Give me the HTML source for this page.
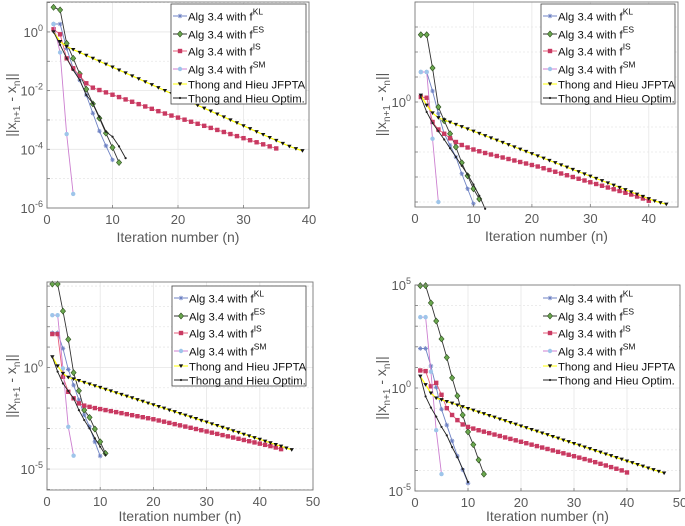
<!DOCTYPE html>
<html><head><meta charset="utf-8"><style>
body{margin:0;background:#fff;}
svg{display:block;font-family:"Liberation Sans",sans-serif;}
</style></head><body>
<svg id="fig" width="685" height="526" viewBox="0 0 685 526"></svg>
<script>
// ---- data (log10 of ||x_{n+1}-x_n||), iteration n starts at 1 ----
const p1KL=[0.27,0.27,-0.56,-1.24,-1.64,-2.15,-2.77,-3.38,-3.88,-4.36];
const p1ES=[0.84,0.75,-0.39,-0.9,-1.43,-1.95,-2.45,-2.94,-3.45,-3.94,-4.45];
const p1IS=[0.09,-0.08,-0.9,-1.24,-1.5,-1.75,-1.9,-1.98,-2.06,-2.14,-2.22,-2.3,-2.38,-2.46,-2.54,-2.62,-2.7,-2.78,-2.85,-2.92,-2.99,-3.06,-3.13,-3.2,-3.27,-3.34,-3.41,-3.48,-3.55,-3.62,-3.69,-3.76,-3.83,-3.9,-3.97];
const p1SM=[0.27,-0.7,-3.48,-5.52];
const p1JF=[0,-0.33,-0.5,-0.6,-0.7,-0.8,-0.9,-1.0,-1.1,-1.2,-1.3,-1.4,-1.5,-1.6,-1.7,-1.8,-1.9,-2.0,-2.1,-2.2,-2.3,-2.4,-2.5,-2.6,-2.7,-2.8,-2.9,-3.0,-3.1,-3.2,-3.3,-3.4,-3.5,-3.6,-3.7,-3.8,-3.9,-3.98,-4.05];
const p1OP=[0,-0.44,-0.9,-1.3,-1.64,-2.15,-2.43,-2.9,-3.4,-3.57,-3.9,-4.3];

const p2KL=[1.2,1.2,0.44,-0.47,-1.27,-1.73,-2.2,-2.87,-3.47,-4.07];
const p2ES=[2.69,2.69,1.36,-0.2,-0.75,-1.27,-1.8,-2.43,-2.95,-3.47,-3.88];
const p2IS=[0.2,0.17,-0.8,-1.1,-1.27,-1.45,-1.6,-1.72,-1.82,-1.9,-1.97,-2.04,-2.1,-2.16,-2.22,-2.28,-2.34,-2.4,-2.46,-2.52,-2.58,-2.65,-2.72,-2.79,-2.86,-2.93,-3.0,-3.07,-3.14,-3.21,-3.28,-3.35,-3.42,-3.49,-3.56,-3.63,-3.7,-3.78,-3.86,-3.95];
const p2SM=[1.2,1.2,-1.47,-4.0];
const p2JF=[0.27,-0.13,-0.44,-0.63,-0.72,-0.81,-0.9,-0.99,-1.08,-1.17,-1.26,-1.35,-1.44,-1.53,-1.62,-1.71,-1.8,-1.89,-1.98,-2.07,-2.16,-2.25,-2.34,-2.43,-2.52,-2.61,-2.7,-2.79,-2.88,-2.97,-3.06,-3.15,-3.24,-3.33,-3.42,-3.51,-3.6,-3.69,-3.78,-3.87,-3.96,-4.03,-4.09];
const p2OP=[0.2,-0.4,-0.84,-1.17,-1.5,-1.85,-2.2,-2.55,-2.9,-3.3,-3.75,-4.27];

const p3KL=[1.7,1.7,0.93,-0.1,-0.87,-1.6,-2.34,-2.92,-3.66,-4.36];
const p3ES=[4.1,4.1,2.77,1.38,-0.26,-1.15,-2.1,-2.46,-3.03,-3.66,-4.23];
const p3IS=[1.64,1.64,-0.46,-1.2,-1.52,-1.77,-1.88,-1.94,-2.0,-2.05,-2.1,-2.15,-2.2,-2.25,-2.3,-2.35,-2.4,-2.45,-2.5,-2.55,-2.61,-2.67,-2.73,-2.79,-2.85,-2.91,-2.97,-3.03,-3.09,-3.15,-3.21,-3.27,-3.33,-3.39,-3.45,-3.51,-3.57,-3.63,-3.69,-3.75,-3.81,-3.87,-3.94,-4.02];
const p3SM=[2.57,2.57,-0.05,-2.92,-4.34];
const p3JF=[0.52,0.07,-0.3,-0.49,-0.57,-0.65,-0.74,-0.82,-0.91,-0.99,-1.08,-1.16,-1.25,-1.33,-1.42,-1.5,-1.59,-1.67,-1.76,-1.84,-1.93,-2.01,-2.1,-2.18,-2.27,-2.35,-2.44,-2.52,-2.61,-2.69,-2.78,-2.86,-2.95,-3.03,-3.12,-3.2,-3.29,-3.37,-3.46,-3.54,-3.63,-3.71,-3.8,-3.88,-3.97,-4.05];
const p3OP=[0.52,-0.21,-0.79,-1.16,-1.52,-2.1,-2.59,-3.0,-3.49,-3.9,-4.31];

const p4KL=[1.92,1.92,1.07,0.03,-1.03,-1.8,-2.57,-3.3,-3.97,-4.62];
const p4ES=[4.97,4.97,4.13,3.25,2.38,1.48,0.49,-0.38,-1.31,-2.13,-2.75,-3.49,-4.18];
const p4IS=[0.85,0.82,0.08,0.25,-0.33,-0.98,-1.31,-1.56,-1.77,-1.89,-1.97,-2.05,-2.12,-2.19,-2.26,-2.33,-2.4,-2.47,-2.54,-2.61,-2.68,-2.75,-2.82,-2.89,-2.96,-3.03,-3.1,-3.17,-3.24,-3.31,-3.38,-3.45,-3.52,-3.6,-3.68,-3.76,-3.84,-3.92,-4.0,-4.1];
const p4SM=[3.44,3.44,0.79,-2.05,-4.18];
const p4JF=[0.57,0.16,-0.25,-0.49,-0.57,-0.66,-0.74,-0.83,-0.91,-1.0,-1.08,-1.17,-1.25,-1.34,-1.42,-1.51,-1.59,-1.68,-1.76,-1.85,-1.93,-2.02,-2.1,-2.19,-2.27,-2.36,-2.44,-2.53,-2.61,-2.7,-2.78,-2.87,-2.95,-3.04,-3.12,-3.21,-3.29,-3.38,-3.46,-3.55,-3.63,-3.72,-3.8,-3.89,-3.97,-4.05,-4.13];
const p4OP=[0.57,-0.41,-0.95,-1.39,-1.89,-2.3,-2.87,-3.36,-3.93,-4.56];

const p1XTicks=[0,10,20,30,40], p1YTicks=[0,-2,-4,-6];
const p2XTicks=[0,10,20,30,40], p2YTicks=[0];
const p3XTicks=[0,10,20,30,40,50], p3YTicks=[0,-5];
const p4XTicks=[0,10,20,30,40,50], p4YTicks=[5,0,-5];
const legendLabels=[["Alg 3.4 with f","KL"],[" Alg 3.4 with f","ES"],["Alg 3.4 with f","IS"],["Alg 3.4 with f","SM"],["Thong and Hieu JFPTA",""],["Thong and Hieu Optim.",""]];

const NS="http://www.w3.org/2000/svg";
const svg=document.getElementById('fig');
function mk(tag,attrs,parent){const e=document.createElementNS(NS,tag);for(const k in attrs)e.setAttribute(k,attrs[k]);(parent||svg).appendChild(e);return e;}

const styles=[
 {line:'#6f83c4',mk:'star',fill:'#6f83c4',stroke:'#6f83c4'},
 {line:'#333333',mk:'diamond',fill:'#6aa84f',stroke:'#2f4f1f'},
 {line:'#e65c7b',mk:'square',fill:'#c83a62',stroke:'#c83a62'},
 {line:'#cc7fd0',mk:'circle',fill:'#9ec5ea',stroke:'#9ec5ea'},
 {line:'#ffff00',mk:'tri',fill:'#111',stroke:'#111'},
 {line:'#222222',mk:'dot',fill:'#222',stroke:'#222'}];
const seriesNames=['kl','es','is','sm','jfpta','optim'];

function marker(g,type,x,y,st){
  let e;
  if(type==='square') e=mk('rect',{x:x-2.2,y:y-2.2,width:4.4,height:4.4,fill:st.fill},g);
  else if(type==='diamond') e=mk('polygon',{points:`${x},${y-3} ${x+2.6},${y} ${x},${y+3} ${x-2.6},${y}`,fill:st.fill,stroke:st.stroke,'stroke-width':0.6},g);
  else if(type==='circle') e=mk('circle',{cx:x,cy:y,r:2.2,fill:st.fill},g);
  else if(type==='tri') e=mk('polygon',{points:`${x-2.2},${y-1.6} ${x+2.2},${y-1.6} ${x},${y+2}`,fill:st.fill},g);
  else if(type==='dot') e=mk('circle',{cx:x,cy:y,r:1.1,fill:st.fill},g);
  else e=mk('path',{d:`M${x-2.3},${y}L${x+2.3},${y}M${x},${y-2.3}L${x},${y+2.3}M${x-1.6},${y-1.6}L${x+1.6},${y+1.6}M${x-1.6},${y+1.6}L${x+1.6},${y-1.6}`,stroke:st.stroke,'stroke-width':0.8},g);
  
  
}

function drawPlot(c){
  const g=mk('g',{});
  
  
  const sx=v=>c.x0+(v-c.xmin)/(c.xmax-c.xmin)*(c.x1-c.x0);
  const sy=v=>c.y1-(v-c.ymin)/(c.ymax-c.ymin)*(c.y1-c.y0);
  for(let d=Math.ceil(c.ymin);d<=Math.floor(c.ymax);d+=1){
    const gl=mk('line',{x1:c.x0,x2:c.x1,y1:sy(d),y2:sy(d),stroke:'#e6e6e6','stroke-width':0.8,'stroke-dasharray':c.yTicks.includes(d)?'':'2,2'},g);
    
    
  }
  c.xTicks.forEach(t=>{
    const gl=mk('line',{x1:sx(t),x2:sx(t),y1:c.y0,y2:c.y1,stroke:'#e6e6e6','stroke-width':0.8},g);
    
    
  });
  c.series.forEach((arr,i)=>{
    const st=styles[i];
    const sg=mk('g',{},g);
    
    
    const pts=arr.map((v,k)=>sx(k+1).toFixed(2)+','+sy(v).toFixed(2)).join(' ');
    mk('polyline',{points:pts,fill:'none',stroke:st.line,'stroke-width':i===4?1.2:0.9},sg);
    arr.forEach((v,k)=>marker(sg,st.mk,sx(k+1),sy(v),st));
  });
  const box=mk('rect',{x:c.x0,y:c.y0,width:c.x1-c.x0,height:c.y1-c.y0,fill:'none',stroke:'#7a7a7a','stroke-width':0.9},g);
  
  
  c.xTicks.forEach(t=>{
    mk('line',{x1:sx(t),x2:sx(t),y1:c.y1,y2:c.y1-3,stroke:'#7a7a7a','stroke-width':0.8},g);
    const tl=mk('text',{x:sx(t),y:c.y1+16,'text-anchor':'middle','font-size':13,fill:'#5a5a5a'},g);
    tl.textContent=t;
    
    
  });
  for(let d=Math.ceil(c.ymin);d<=Math.floor(c.ymax);d+=1){
    mk('line',{x1:c.x0,x2:c.x0+3,y1:sy(d),y2:sy(d),stroke:'#7a7a7a','stroke-width':0.8},g);
  }
  c.yTicks.forEach(t=>{
    const tl=mk('text',{x:c.x0-4,y:sy(t)+5,'text-anchor':'end','font-size':13,fill:'#5a5a5a'},g);
    
    
    const a=mk('tspan',{},tl); a.textContent='10';
    const b=mk('tspan',{dy:-6,'font-size':9},tl); b.textContent=String(t);
  });
  const xl=mk('text',{x:(c.x0+c.x1)/2,y:c.y1+c.xld,'text-anchor':'middle','font-size':14,fill:'#5a5a5a'},g);
  xl.textContent='Iteration number (n)';
  
  
  const yl=mk('text',{transform:`translate(${c.ylx},${(c.y0+c.y1)/2}) rotate(-90)`,'text-anchor':'middle','font-size':14,fill:'#5a5a5a'},g);
  
  
  const p=[['||x',0,14],['n+1',4,10],[' - x',-4,14],['n',4,10],['||',-4,14]];
  p.forEach(q=>{const t=mk('tspan',{dy:q[1],'font-size':q[2]},yl);t.textContent=q[0];});
  const L=c.legend;
  const lg=mk('g',{},g);
  
  
  mk('rect',{x:L.x,y:L.y,width:L.w,height:L.h,fill:'#fff',stroke:L.border?'#444':'none','stroke-width':0.8},lg);
  const rows=[15,33,50,68,83,97];
  legendLabels.forEach((lab,i)=>{
    const yy=L.y+rows[i]-3;
    const st=styles[i];
    const e=mk('g',{},lg);
    
    
    mk('line',{x1:L.x+2,x2:L.x+16,y1:yy,y2:yy,stroke:st.line,'stroke-width':1},e);
    marker(e,st.mk,L.x+9,yy,st);
    const t=mk('text',{x:L.x+17,y:yy+4.5,'font-size':11.3,fill:'#111'},e);
    const a=mk('tspan',{},t);a.textContent=lab[0];
    if(lab[1]){const b=mk('tspan',{dy:-6,'font-size':8.5},t);b.textContent=lab[1];}
  });
}

drawPlot({name:'plot-top-left',x0:47,x1:309,y0:2,y1:208,xmin:0,xmax:40,ymin:-6,ymax:1.02,xTicks:p1XTicks,yTicks:p1YTicks,ylx:16,xld:34,
  series:[p1KL,p1ES,p1IS,p1SM,p1JF,p1OP],legend:{x:171,y:4,w:135,h:100,border:true}});
drawPlot({name:'plot-top-right',x0:415,x1:678,y0:2,y1:207,xmin:0,xmax:45,ymin:-4.2,ymax:4,xTicks:p2XTicks,yTicks:p2YTicks,ylx:386,xld:34,
  series:[p2KL,p2ES,p2IS,p2SM,p2JF,p2OP],legend:{x:541,y:4,w:134,h:100,border:true}});
drawPlot({name:'plot-bottom-left',x0:47,x1:313,y0:282,y1:490,xmin:0,xmax:50,ymin:-6.03,ymax:4.2,xTicks:p3XTicks,yTicks:p3YTicks,ylx:16,xld:31,
  series:[p3KL,p3ES,p3IS,p3SM,p3JF,p3OP],legend:{x:172,y:286,w:134,h:100,border:true}});
drawPlot({name:'plot-bottom-right',x0:415,x1:680,y0:285,y1:491,xmin:0,xmax:50,ymin:-5,ymax:5,xTicks:p4XTicks,yTicks:p4YTicks,ylx:386,xld:30,
  series:[p4KL,p4ES,p4IS,p4SM,p4JF,p4OP],legend:{x:541,y:286,w:137,h:100,border:false}});
</script>
</body></html>
